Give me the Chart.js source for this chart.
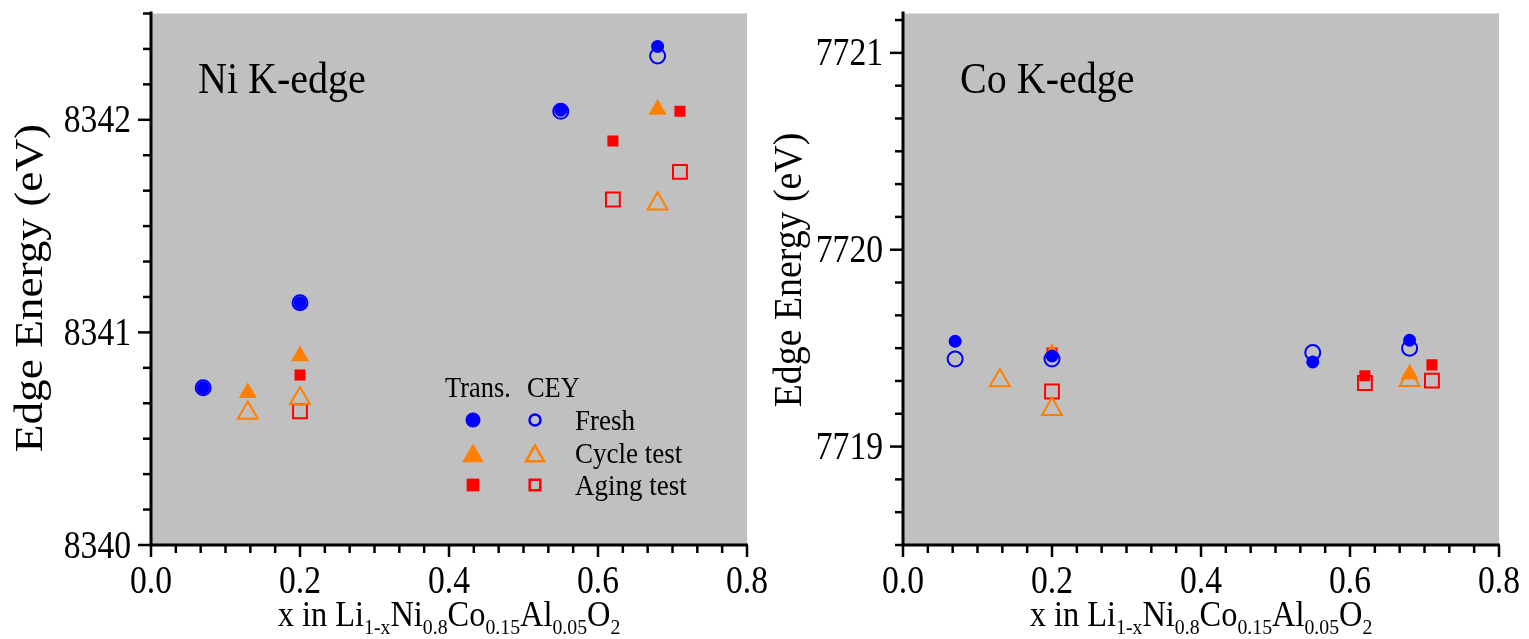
<!DOCTYPE html>
<html>
<head>
<meta charset="utf-8">
<script src="https://cdn.jsdelivr.net/npm/chart.js@4.4.0/dist/chart.umd.min.js"></script>
<style>
    html, body { margin: 0; padding: 0; background: #fff; }
    #lienzo { position: relative; width: 1529px; height: 639px; }
    canvas { position: absolute; top: 0; }
</style>
</head>
<body>
<div id="lienzo">
    <canvas id="graficaNi" width="790" height="639" style="left:0px"></canvas>
    <canvas id="graficaCo" width="764" height="639" style="left:765px"></canvas>
</div>
<script>
// ejes
const X_TICKS = [0.0, 0.2, 0.4, 0.6, 0.8];
const NI_Y_TICKS = [8340, 8341, 8342];
const CO_Y_TICKS = [7719, 7720, 7721];
const NI_Y_RANGO = [8340, 8342.5];
const CO_Y_RANGO = [7718.5, 7721.2];

// Ni K-edge  [x, energia]
const NI_FRESH_TRANS = [[0.07, 8340.74], [0.2, 8341.14], [0.55, 8342.045], [0.68, 8342.345]];
const NI_FRESH_CEY   = [[0.07, 8340.74], [0.2, 8341.14], [0.55, 8342.04], [0.68, 8342.30]];
const NI_CYCLE_TRANS = [[0.13, 8340.716], [0.2, 8340.889], [0.68, 8342.048]];
const NI_CYCLE_CEY   = [[0.13, 8340.621], [0.2, 8340.689], [0.68, 8341.605]];
const NI_AGING_TRANS = [[0.2, 8340.80], [0.62, 8341.90], [0.71, 8342.04]];
const NI_AGING_CEY   = [[0.2, 8340.629], [0.62, 8341.625], [0.71, 8341.755]];

// Co K-edge
const CO_FRESH_TRANS = [[0.07, 7719.535], [0.2, 7719.46], [0.55, 7719.43], [0.68, 7719.54]];
const CO_FRESH_CEY   = [[0.07, 7719.445], [0.2, 7719.445], [0.55, 7719.478], [0.68, 7719.50]];
const CO_CYCLE_TRANS = [[0.2, 7719.473], [0.68, 7719.368]];
const CO_CYCLE_CEY   = [[0.13, 7719.336], [0.2, 7719.19], [0.68, 7719.337]];
const CO_AGING_TRANS = [[0.2, 7719.475], [0.62, 7719.36], [0.71, 7719.415]];
const CO_AGING_CEY   = [[0.2, 7719.28], [0.62, 7719.323], [0.71, 7719.335]];

const AZUL = '#0000ff';
const NARANJA = '#ff7f00';
const ROJO = '#ff0000';
const FUENTE = '"Liberation Serif", "Times New Roman", serif';

const ESTILOS = {
    freshTrans: { pointStyle: 'circle', radius: 6.5, color: AZUL, relleno: true, bw: 0 },
    freshCey: { pointStyle: 'circle', radius: 7.5, color: AZUL, relleno: false, bw: 2 },
    cycleTrans: { pointStyle: 'triangle', radius: 10.5, color: NARANJA, relleno: true, bw: 0 },
    cycleCey: { pointStyle: 'triangle', radius: 11.5, color: NARANJA, relleno: false, bw: 2 },
    agingTrans: { pointStyle: 'rect', radius: 7.8, color: ROJO, relleno: true, bw: 0 },
    agingCey: { pointStyle: 'rect', radius: 9.8, color: ROJO, relleno: false, bw: 2 }
};

function aPuntos(pares) {
    return pares.map(p => ({ x: p[0], y: p[1] }));
}

function serie(pares, estilo) {
    return {
        data: aPuntos(pares),
        pointStyle: estilo.pointStyle,
        pointRadius: estilo.radius,
        pointBackgroundColor: estilo.relleno ? estilo.color : 'rgba(0,0,0,0)',
        pointBorderColor: estilo.color,
        pointBorderWidth: estilo.bw,
        showLine: false
    };
}

function texto(ctx, str, x, y, size, align, sx) {
    ctx.save();
    ctx.font = size + 'px ' + FUENTE;
    ctx.fillStyle = '#000';
    ctx.textBaseline = 'alphabetic';
    ctx.textAlign = 'left';
    const w = ctx.measureText(str).width * sx;
    let x0 = x;
    if (align === 'center') x0 = x - w / 2;
    else if (align === 'right') x0 = x - w;
    ctx.translate(x0, y);
    ctx.scale(sx, 1);
    ctx.fillText(str, 0, 0);
    ctx.restore();
    return w;
}

function anchoTexto(ctx, str, size, sx) {
    ctx.save();
    ctx.font = size + 'px ' + FUENTE;
    const w = ctx.measureText(str).width * sx;
    ctx.restore();
    return w;
}

function tituloX(ctx, cx, y) {
    const partes = [
        ['x in Li', false], ['1-x', true], ['Ni', false], ['0.8', true],
        ['Co', false], ['0.15', true], ['Al', false], ['0.05', true],
        ['O', false], ['2', true]
    ];
    const grande = 36, chica = 22, sx = 0.9;
    let total = 0;
    partes.forEach(p => { total += anchoTexto(ctx, p[0], p[1] ? chica : grande, sx); });
    let x = cx - total / 2;
    partes.forEach(p => {
        x += texto(ctx, p[0], x, p[1] ? y + 8 : y, p[1] ? chica : grande, 'left', sx);
    });
}

function tituloY(ctx, bx, cy, size, sx) {
    ctx.save();
    ctx.translate(bx, cy);
    ctx.rotate(-Math.PI / 2);
    texto(ctx, 'Edge Energy (eV)', 0, 0, size, 'center', sx);
    ctx.restore();
}

function simbolo(ctx, estilo, x, y, radius, bw) {
    ctx.save();
    ctx.fillStyle = estilo.relleno ? estilo.color : 'rgba(0,0,0,0)';
    ctx.strokeStyle = estilo.color;
    ctx.lineWidth = bw;
    Chart.helpers.drawPoint(ctx, { pointStyle: estilo.pointStyle, radius: radius, borderWidth: bw, rotation: 0 }, x, y);
    ctx.restore();
}

const pluginEjes = {
    id: 'ejes',
    beforeDraw(chart) {
        const { ctx, chartArea: a } = chart;
        ctx.save();
        ctx.fillStyle = '#c0c0c0';
        ctx.fillRect(a.left, a.top, a.right - a.left, a.bottom - a.top);
        ctx.restore();
    },
    afterDraw(chart, args, opts) {
        const { ctx, chartArea: a } = chart;
        const sx = chart.scales.x, sy = chart.scales.y;
        ctx.save();
        ctx.strokeStyle = '#000';
        ctx.lineCap = 'butt';

        // marcas del eje y, cada 1/6 eV
        ctx.lineWidth = 2.5;
        const base = opts.yTicks[0];
        const kMin = Math.ceil((sy.min - base) * 6 - 1e-6);
        const kMax = Math.floor((sy.max - base) * 6 + 1e-6);
        for (let k = kMin; k <= kMax; k++) {
            const py = sy.getPixelForValue(base + k / 6);
            const largo = (k % 6 === 0) ? 13 : 8;
            ctx.beginPath();
            ctx.moveTo(a.left - largo, py);
            ctx.lineTo(a.left, py);
            ctx.stroke();
        }
        // marcas del eje x, cada 1/30
        for (let k = 0; k <= 24; k++) {
            const px = sx.getPixelForValue(k / 30);
            const largo = (k % 6 === 0) ? 12 : 8;
            ctx.beginPath();
            ctx.moveTo(px, a.bottom);
            ctx.lineTo(px, a.bottom + largo);
            ctx.stroke();
        }
        ctx.lineWidth = 3;
        ctx.beginPath();
        ctx.moveTo(a.left, a.top - 2);
        ctx.lineTo(a.left, a.bottom);
        ctx.lineTo(a.right + 1, a.bottom);
        ctx.stroke();
        ctx.restore();

        opts.yTicks.forEach(v => {
            texto(ctx, String(v), a.left - 20, sy.getPixelForValue(v) + 12.5, 41, 'right', 0.82);
        });
        X_TICKS.forEach(v => {
            texto(ctx, v.toFixed(1), sx.getPixelForValue(v), 593, 40, 'center', 0.84);
        });

        tituloX(ctx, (a.left + a.right) / 2, 626);
        tituloY(ctx, opts.yTituloX, opts.yTituloY, 39, opts.yTituloSx);
        texto(ctx, opts.panel, opts.panelX, 93, 44, 'left', 0.91);

        if (opts.leyenda) {
            texto(ctx, 'Trans.', 445, 396.7, 30, 'left', 0.88);
            texto(ctx, 'CEY', 527, 396.7, 30, 'left', 0.88);
            const filas = [
                { t: ESTILOS.freshTrans, c: ESTILOS.freshCey, nombre: 'Fresh', y: 420, dy: 0, r1: 7.5, r2: 5.5 },
                { t: ESTILOS.cycleTrans, c: ESTILOS.cycleCey, nombre: 'Cycle test', y: 453, dy: 3, r1: 12.5, r2: 10.5 },
                { t: ESTILOS.agingTrans, c: ESTILOS.agingCey, nombre: 'Aging test', y: 485, dy: 0, r1: 9, r2: 7.5 }
            ];
            filas.forEach(f => {
                simbolo(ctx, f.t, 473, f.y + f.dy, f.r1, 0);
                simbolo(ctx, f.c, 535, f.y + f.dy, f.r2, 2.5);
                texto(ctx, f.nombre, 575, f.y + 9.5, 30, 'left', 0.9);
            });
        }
    }
};

function crearPanel(id, series, rangoY, extras, padding) {
    const ctx = document.getElementById(id);
    return new Chart(ctx, {
        type: 'scatter',
        data: { datasets: series },
        options: {
            responsive: false,
            animation: false,
            layout: { padding: padding },
            plugins: {
                legend: { display: false },
                tooltip: { enabled: false },
                ejes: extras
            },
            scales: {
                x: { type: 'linear', min: 0, max: 0.8, display: false },
                y: { type: 'linear', min: rangoY[0], max: rangoY[1], display: false }
            }
        },
        plugins: [pluginEjes]
    });
}

crearPanel('graficaNi', [
    serie(NI_FRESH_CEY, ESTILOS.freshCey),
    serie(NI_CYCLE_CEY, ESTILOS.cycleCey),
    serie(NI_AGING_CEY, ESTILOS.agingCey),
    serie(NI_FRESH_TRANS, ESTILOS.freshTrans),
    serie(NI_CYCLE_TRANS, ESTILOS.cycleTrans),
    serie(NI_AGING_TRANS, ESTILOS.agingTrans)
], NI_Y_RANGO, {
    yTicks: NI_Y_TICKS, panel: 'Ni K-edge', panelX: 198,
    yTituloX: 42, yTituloY: 288, yTituloSx: 1.16, leyenda: true
}, { left: 151, right: 43, top: 10, bottom: 94 });

crearPanel('graficaCo', [
    serie(CO_FRESH_CEY, ESTILOS.freshCey),
    serie(CO_CYCLE_CEY, ESTILOS.cycleCey),
    serie(CO_AGING_CEY, ESTILOS.agingCey),
    serie(CO_FRESH_TRANS, ESTILOS.freshTrans),
    serie(CO_CYCLE_TRANS, ESTILOS.cycleTrans),
    serie(CO_AGING_TRANS, ESTILOS.agingTrans)
], CO_Y_RANGO, {
    yTicks: CO_Y_TICKS, panel: 'Co K-edge', panelX: 195,
    yTituloX: 36, yTituloY: 270, yTituloSx: 0.97, leyenda: false
}, { left: 138, right: 30, top: 10, bottom: 94 });
</script>
</body>
</html>
